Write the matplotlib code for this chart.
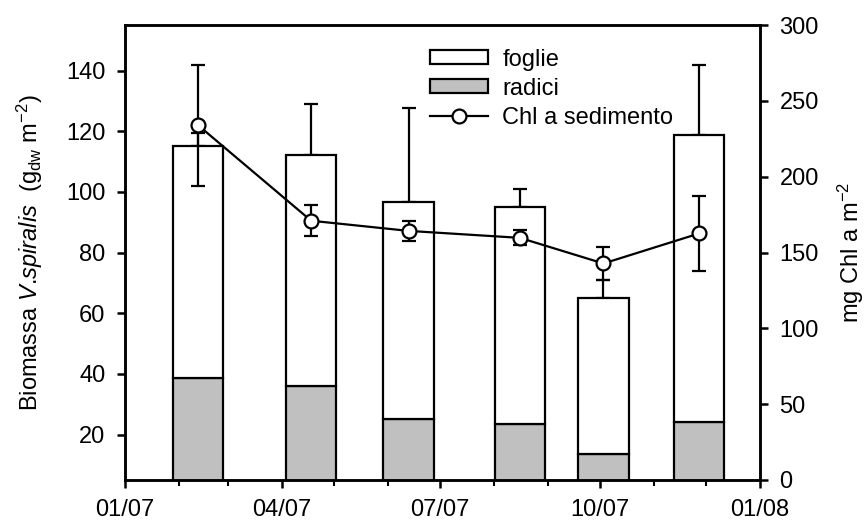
import datetime as dt

import matplotlib
matplotlib.use("Agg")
import matplotlib.pyplot as plt
import matplotlib.dates as mdates
from matplotlib.lines import Line2D

plt.rcParams["font.family"] = ["Liberation Sans", "DejaVu Sans"]
plt.rcParams["mathtext.fontset"] = "custom"
plt.rcParams["mathtext.rm"] = "Liberation Sans"
plt.rcParams["mathtext.it"] = "Liberation Sans:italic"

# ── Data ─────────────────────────────────────────────────────────────────────
dates = [dt.datetime(2007, 2, 12), dt.datetime(2007, 4, 18), dt.datetime(2007, 6, 13),
         dt.datetime(2007, 8, 16), dt.datetime(2007, 10, 3), dt.datetime(2007, 11, 27)]
radici = [38.7, 36.1, 25.0, 23.4, 13.5, 24.0]
radici_err = [3.3, 11.9, 27.2, 2.5, 2.7, 7.0]
foglie = [76.4, 76.1, 71.8, 71.7, 51.4, 94.7]      # stacked on top of radici
totale_err = [4.2, 16.8, 31.0, 5.9, 6.0, 23.1]
chl = [234.0, 171.0, 164.3, 159.7, 142.8, 162.6]
chl_err = [40.0, 10.3, 6.8, 5.0, 11.0, 24.6]

x = mdates.date2num(dates)
totale = [r + f for r, f in zip(radici, foglie)]

FS = 17
fig = plt.figure(figsize=(8.68, 5.24), dpi=100)
ax = fig.add_axes([0.144, 0.084, 0.7316, 0.868])
ax2 = ax.twinx()

BAR_W = 29
LW = 1.6
ax.bar(x, radici, BAR_W, color="#c0c0c0", edgecolor="black", linewidth=LW,
       label="radici", zorder=2)
ax.bar(x, foglie, BAR_W, bottom=radici, color="white", edgecolor="black",
       linewidth=LW, label="foglie", zorder=2)
ax.errorbar(x, radici, yerr=[[0] * len(x), radici_err], fmt="none", ecolor="black",
            elinewidth=LW, capsize=5, capthick=LW, zorder=1)
ax.errorbar(x, totale, yerr=[[0] * len(x), totale_err], fmt="none", ecolor="black",
            elinewidth=LW, capsize=5, capthick=LW, zorder=1)

ax2.errorbar(x, chl, yerr=chl_err, fmt="-o", color="black", lw=LW,
             elinewidth=LW, capsize=5, capthick=LW, ms=10, mfc="white",
             mec="black", mew=1.6, zorder=3)

# ── Axes ──────────────────────────────────────────────────────────────────────
ax.set_xlim(mdates.date2num(dt.datetime(2007, 1, 1)), mdates.date2num(dt.datetime(2008, 1, 1)))
ax.set_ylim(5, 155)
ax2.set_ylim(0, 300)
ax.set_yticks(range(20, 141, 20))
ax2.set_yticks(range(0, 301, 50))
ax.xaxis.set_major_locator(mdates.MonthLocator(bymonth=[1, 4, 7, 10]))
ax.xaxis.set_minor_locator(mdates.MonthLocator())
ax.xaxis.set_major_formatter(mdates.DateFormatter("%m/%y"))

for a in (ax, ax2):
    for sp in a.spines.values():
        sp.set_linewidth(1.8)
    a.tick_params(which="major", length=6, width=1.8, labelsize=FS, direction="out", pad=8)
    a.tick_params(which="minor", length=4, width=1.5, direction="out")
ax.tick_params(axis="x", pad=8)

ax.set_ylabel("Biomassa $\\mathit{V}$.$\\mathit{spiralis}$  (g$_{\\mathrm{dw}}$ m$^{-2}$)",
              fontsize=FS, labelpad=15)
ax2.set_ylabel("mg Chl a m$^{-2}$", fontsize=FS, labelpad=12)

# ── Legend ────────────────────────────────────────────────────────────────────
h1, l1 = ax.get_legend_handles_labels()
chl_handle = Line2D([], [], color="black", lw=LW, marker="o", ms=10,
                    mfc="white", mec="black", mew=1.6)
ax2.legend([h1[1], h1[0], chl_handle], [l1[1], l1[0], "Chl a sedimento"],
           loc="upper left", bbox_to_anchor=(0.455, 0.985),
           frameon=False, fontsize=FS, handlelength=2.45, handleheight=0.5,
           labelspacing=0.3, handletextpad=0.6, borderpad=0.2)

fig.savefig("out.png", dpi=100)
